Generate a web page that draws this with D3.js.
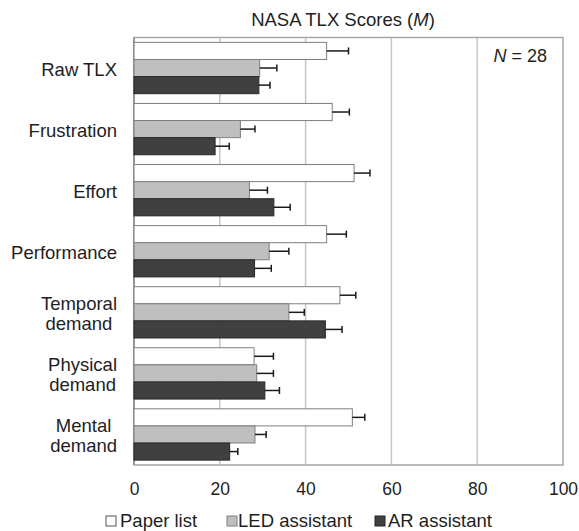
<!DOCTYPE html>
<html><head><meta charset="utf-8">
<script src="https://cdn.jsdelivr.net/npm/d3@7"></script>
<style>body{margin:0;background:#fff}svg{display:block}</style>
</head><body>
<svg id="c" width="579" height="531"></svg>
<script>
const categories = [["Raw TLX"],["Frustration"],["Effort"],["Performance"],["Temporal","demand"],["Physical","demand"],["Mental","demand"]];
const seriesNames = ["Paper list","LED assistant","AR assistant"];
const paperMean = [44.9, 46.2, 51.3, 44.9, 48.0, 28.0, 50.9];
const paperErr  = [5.1, 4.0, 3.7, 4.6, 3.7, 4.5, 2.9];
const ledMean   = [29.3, 24.8, 26.9, 31.5, 36.1, 28.6, 28.2];
const ledErr    = [4.0, 3.4, 4.2, 4.6, 3.6, 3.9, 2.6];
const arMean    = [29.1, 18.9, 32.6, 28.1, 44.6, 30.5, 22.3];
const arErr     = [2.6, 3.3, 3.8, 3.9, 3.9, 3.4, 1.9];
const xTicks = [0, 20, 40, 60, 80, 100];
const fills = ["#ffffff","#bfbfbf","#404040"];
const strokes = ["#7f7f7f","#7f7f7f","#262626"];

const means = [paperMean, ledMean, arMean];
const errs = [paperErr, ledErr, arErr];
const svg = d3.select("#c");
const font = "Liberation Sans, Arial, sans-serif";
const L = 134, R = 563, T = 37.5, B = 465;
const txt = "#1e1e1e";

const x = d3.scaleLinear().domain([0,100]).range([L,R]);
const y = d3.scaleBand().domain(d3.range(categories.length)).range([T,B]).paddingInner(0.16).paddingOuter(0.08);
const ys = d3.scaleBand().domain(d3.range(3)).range([0, y.bandwidth()]);

// gridlines
svg.append("g").selectAll("line").data(xTicks.slice(1,-1)).join("line")
  .attr("x1", d=>x(d)).attr("x2", d=>x(d)).attr("y1", T).attr("y2", B)
  .attr("stroke", "#c6c6c6").attr("stroke-width", 1.5);
// border
svg.append("rect").attr("x", L).attr("y", T).attr("width", R-L).attr("height", B-T)
  .attr("fill","none").attr("stroke","#a6a6a6").attr("stroke-width",1.5);
svg.append("line").attr("x1",L).attr("x2",L).attr("y1",T).attr("y2",B).attr("stroke","#8a8a8a").attr("stroke-width",1.5);

// bars
const groups = svg.append("g").selectAll("g").data(categories).join("g")
  .attr("transform", (d,i)=>`translate(0,${y(i)})`);
groups.each(function(c, i){
  const g = d3.select(this);
  for (let s=0; s<3; s++){
    const v = means[s][i], e = errs[s][i];
    g.append("rect").attr("x", x(0)).attr("y", ys(s)).attr("width", x(v)-x(0)).attr("height", ys.bandwidth())
      .attr("fill", fills[s]).attr("stroke", strokes[s]).attr("stroke-width", 1);
    const cy = ys(s) + ys.bandwidth()/2;
    g.append("line").attr("x1", x(v)).attr("x2", x(v+e)).attr("y1", cy).attr("y2", cy)
      .attr("stroke","#1a1a1a").attr("stroke-width",1.5);
    g.append("line").attr("x1", x(v+e)).attr("x2", x(v+e)).attr("y1", cy-3.5).attr("y2", cy+3.5)
      .attr("stroke","#1a1a1a").attr("stroke-width",1.5);
  }
});

// category labels (block right-aligned, lines centred within block)
categories.forEach((lines, i) => {
  const cy = y(i) + y.bandwidth()/2 + 1;
  const t = svg.append("text").attr("font-family",font).attr("font-size",18.5).attr("fill",txt);
  const spans = lines.map((ln, k) => t.append("tspan").attr("y", cy + (k - (lines.length-1)/2)*20 + 6.5).text(ln));
  const w = Math.max(...spans.map(s => s.node().getComputedTextLength()));
  const cx = 117 - w/2;
  spans.forEach(s => s.attr("x", cx).attr("text-anchor","middle"));
});

// x axis labels
const ax = svg.append("g").attr("transform",`translate(0,${B})`)
  .call(d3.axisBottom(x).tickValues(xTicks).tickSize(0).tickPadding(0));
ax.select(".domain").remove();
ax.selectAll("text").attr("font-family",font).attr("font-size",17.5).attr("fill",txt).attr("y",30).attr("dy",0);

// title
const title = svg.append("text").attr("x", 343).attr("y", 26).attr("text-anchor","middle")
  .attr("font-family",font).attr("font-size",18.5).attr("fill",txt);
title.append("tspan").text("NASA TLX Scores (");
title.append("tspan").attr("font-style","italic").text("M");
title.append("tspan").text(")");

// N
const nt = svg.append("text").attr("x", 547).attr("y", 62).attr("text-anchor","end")
  .attr("font-family",font).attr("font-size",18).attr("fill",txt);
nt.append("tspan").attr("font-style","italic").text("N");
nt.append("tspan").text(" = 28");

// legend
const legSq = [106, 227, 375];
const legTx = [120, 238, 388];
seriesNames.forEach((n, s) => {
  svg.append("rect").attr("x", legSq[s]).attr("y", 516).attr("width", 10).attr("height", 10)
    .attr("fill", fills[s]).attr("stroke", s===0 ? "#555" : strokes[s]).attr("stroke-width", 1);
  svg.append("text").attr("x", legTx[s]).attr("y", 527).attr("font-family",font).attr("font-size",18.5)
    .attr("fill",txt).text(n);
});
</script>
</body></html>
